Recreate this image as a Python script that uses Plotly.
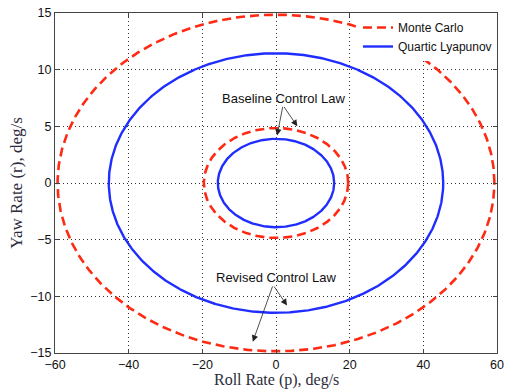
import numpy as np
import plotly.graph_objects as go

# Semi-axes (roll half-width, yaw half-height) of each closed region, deg/s
monte_carlo_p = [59.3, 19.6]
monte_carlo_r = [14.85, 4.85]
lyapunov_p = [45.4, 15.8]
lyapunov_r = [11.45, 3.9]
x_ticks = [-60, -40, -20, 0, 20, 40, 60]
y_ticks = [-15, -10, -5, 0, 5, 10, 15]

theta = np.linspace(0, 2 * np.pi, 721)
RED = "#ff2a14"
BLUE = "#1f2dff"

fig = go.Figure()
for i, (a, b) in enumerate(zip(monte_carlo_p, monte_carlo_r)):
    fig.add_trace(go.Scatter(x=a * np.cos(theta), y=b * np.sin(theta), mode="lines",
                             line=dict(color=RED, width=2.6, dash="9px,5px"),
                             name="Monte Carlo", showlegend=(i == 0), legendrank=1))
for i, (a, b) in enumerate(zip(lyapunov_p, lyapunov_r)):
    fig.add_trace(go.Scatter(x=a * np.cos(theta), y=b * np.sin(theta), mode="lines",
                             line=dict(color=BLUE, width=2.4),
                             name="Quartic Lyapunov", showlegend=(i == 0), legendrank=2))

ann = []
ann.append(dict(x=1.9, y=7.5, text="Baseline Control Law", showarrow=False,
                font=dict(family="Liberation Sans, Arial", size=13, color="#111")))
ann.append(dict(x=0, y=-8.3, text="Revised Control Law", showarrow=False,
                font=dict(family="Liberation Sans, Arial", size=13, color="#111")))
arrows = [((1.9, 6.85), (0.3, 4.2)), ((1.9, 6.85), (5.8, 5.0)),
          ((-0.8, -9.0), (-6.3, -14.0)), ((-0.8, -9.0), (3.0, -10.8))]
for (sx, sy), (tx, ty) in arrows:
    ann.append(dict(x=tx, y=ty, ax=sx, ay=sy, axref="x", ayref="y", xref="x", yref="y",
                    text="", showarrow=True, arrowhead=2, arrowsize=1.6, arrowwidth=0.8,
                    arrowcolor="#222"))
# axis titles
ann.append(dict(xref="paper", yref="paper", x=0.5, y=-0.079, yanchor="middle",
                text="Roll Rate (p), deg/s", showarrow=False, borderpad=0,
                font=dict(family="Liberation Serif, DejaVu Serif", size=16, color="#2b2b3b")))
ann.append(dict(xref="paper", yref="paper", x=-0.063, y=0.5, xanchor="right",
                text="Yaw Rate (r), deg/s", showarrow=False, textangle=-90,
                font=dict(family="Liberation Serif, DejaVu Serif", size=17, color="#2b2b3b")))

axis_common = dict(showgrid=True, gridcolor="#333", griddash="1px,3px", gridwidth=1,
                   zeroline=False, showline=True, linecolor="#444", linewidth=1,
                   mirror="ticks", ticks="inside", ticklen=4, tickcolor="#444",
                   automargin=False,
                   tickfont=dict(family="Liberation Sans, Arial", size=12.5, color="#111"))
fig.update_layout(
    width=507, height=389,
    margin=dict(l=55, r=10, t=13, b=36),
    plot_bgcolor="white", paper_bgcolor="white",
    xaxis=dict(range=[-60, 60], tickvals=x_ticks, **axis_common),
    yaxis=dict(range=[-15, 15], tickvals=y_ticks, **axis_common),
    legend=dict(x=1, y=1, xanchor="right", yanchor="top", bgcolor="white",
                borderwidth=0, tracegroupgap=0, itemwidth=30,
                font=dict(family="Liberation Sans, Arial", size=12, color="#111")),
    annotations=ann,
    showlegend=True,
)
fig.write_html("out.html", config={"displayModeBar": False},
               post_script="document.body.style.margin='0px';document.body.style.overflow='hidden';")
